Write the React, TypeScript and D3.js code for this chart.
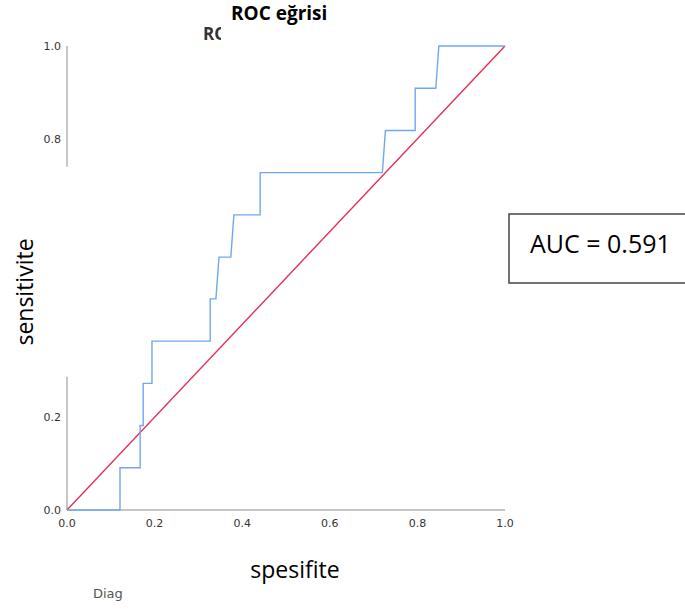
import React from 'react';
import * as d3 from 'd3';

// ROC curve vertices (1 - specificity, sensitivity)
const fpr = [0, 0.121, 0.121, 0.167, 0.167, 0.174, 0.174, 0.194, 0.194, 0.327, 0.327, 0.340, 0.347, 0.374, 0.381, 0.441, 0.441, 0.720, 0.727, 0.795, 0.795, 0.842, 0.849, 1.0];
const tpr = [0, 0, 0.091, 0.091, 0.182, 0.182, 0.273, 0.273, 0.364, 0.364, 0.455, 0.455, 0.545, 0.545, 0.636, 0.636, 0.727, 0.727, 0.818, 0.818, 0.909, 0.909, 1.0, 1.0];
const diagonal = [0, 1];
const xTicks = [0, 0.2, 0.4, 0.6, 0.8, 1.0];
const yTicks = [0, 0.2, 0.8, 1.0];
// visible pieces of the y axis line (the middle is hidden)
const yAxisPieces = [[0, 0.287], [0.740, 1.0]];
const auc = 0.591;

const W = 685;
const H = 610;

const App = () => {
    const x = d3.scaleLinear().domain([0, 1]).range([67, 505]);
    const y = d3.scaleLinear().domain([0, 1]).range([510, 46]);

    const rocLine = d3.line<number>()
        .x((_, i) => x(fpr[i]))
        .y((_, i) => y(tpr[i]));
    const diagLine = d3.line<number>()
        .x(d => x(d))
        .y(d => y(d));

    const tickFont = { fontFamily: '"DejaVu Sans", sans-serif', fontSize: 11, fill: '#333' };
    const axisColor = '#b3b3b3';

    return (
        <svg width={W} height={H} viewBox={`0 0 ${W} ${H}`}
            style={{ position: 'absolute', left: 0, top: 0, display: 'block', background: '#fff' }}>
            <defs>
                <clipPath id="oldTitleClip">
                    <rect x={190} y={20} width={31} height={30} />
                </clipPath>
            </defs>

            {/* underlying title, partly covered */}
            <text x={203} y={40} clipPath="url(#oldTitleClip)"
                style={{ fontFamily: '"Open Sans", sans-serif', fontWeight: 700, fontSize: 17, fill: '#333' }}>
                ROC
            </text>
            <text x={231} y={20}
                style={{ fontFamily: '"Open Sans", sans-serif', fontWeight: 700, fontSize: 19, fill: '#000' }}>
                ROC eğrisi
            </text>

            {/* axes */}
            <line x1={x(0)} x2={x(1)} y1={y(0)} y2={y(0)} stroke={axisColor} strokeWidth={1.5} />
            {yAxisPieces.map(([a, b], i) => (
                <line key={'ya' + i} x1={x(0)} x2={x(0)} y1={y(a)} y2={y(b)} stroke={axisColor} strokeWidth={1.5} />
            ))}
            {xTicks.map(t => (
                <text key={'xt' + t} x={x(t)} y={527} textAnchor="middle" style={tickFont}>{t.toFixed(1)}</text>
            ))}
            {yTicks.map(t => (
                <text key={'yt' + t} x={61} y={y(t)} dy="0.35em" textAnchor="end" style={tickFont}>{t.toFixed(1)}</text>
            ))}

            {/* lines */}
            <path d={diagLine(diagonal) || ''} fill="none" stroke="#e62e58" strokeWidth={1.4} />
            <path d={rocLine(fpr) || ''} fill="none" stroke="#6fa8ee" strokeWidth={1.4} />

            {/* axis titles */}
            <text transform="translate(33,292) rotate(-90)" textAnchor="middle"
                style={{ fontFamily: '"Open Sans", sans-serif', fontSize: 23, fill: '#000' }}>
                sensitivite
            </text>
            <text x={295} y={578} textAnchor="middle"
                style={{ fontFamily: '"Open Sans", sans-serif', fontSize: 23, fill: '#000' }}>
                spesifite
            </text>
            <text x={93} y={598}
                style={{ fontFamily: '"DejaVu Sans", sans-serif', fontSize: 13, fill: '#555' }}>
                Diag
            </text>

            {/* AUC box */}
            <rect x={509} y={214} width={200} height={69} fill="#fff" stroke="#444" strokeWidth={1.5} />
            <text x={530} y={253}
                style={{ fontFamily: '"Open Sans", sans-serif', fontSize: 25, fill: '#000' }}>
                {`AUC = ${auc}`}
            </text>
        </svg>
    );
};

export default App;
